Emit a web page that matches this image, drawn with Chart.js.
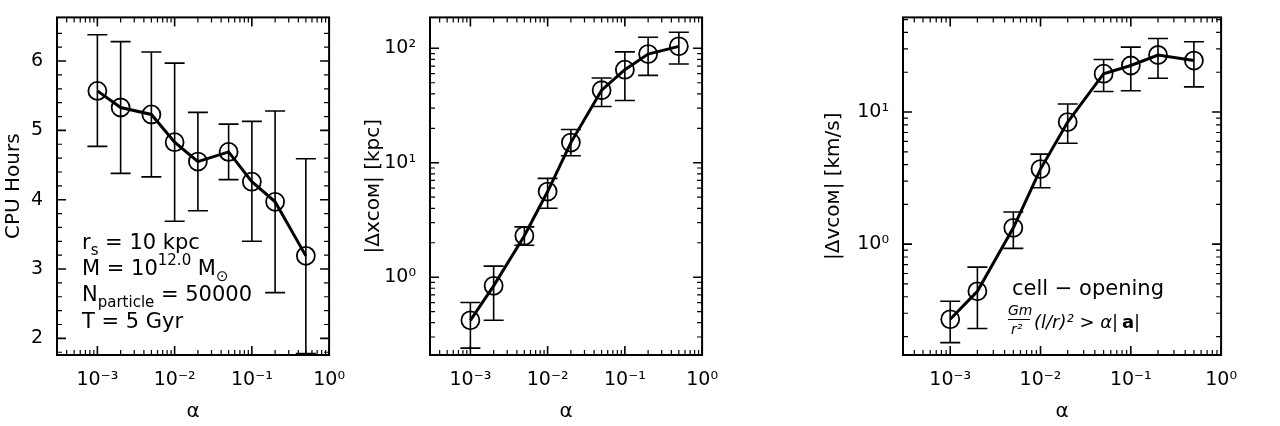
<!DOCTYPE html>
<html><head><meta charset="utf-8">
<script src="https://cdn.jsdelivr.net/npm/chart.js@4"></script>
<style>
body{margin:0;background:#fff;width:1280px;height:426px;position:relative;overflow:hidden}
.p{position:absolute;top:0;height:426px}
</style></head><body>
<div class="p" style="left:0;width:351px"><canvas id="c1"></canvas></div>
<div class="p" style="left:360px;width:364px"><canvas id="c2"></canvas></div>
<div class="p" style="left:820px;width:423px"><canvas id="c3"></canvas></div>
<script>
// données
const alpha = [0.001, 0.002, 0.005, 0.01, 0.02, 0.05, 0.1, 0.2, 0.5];
const cpu = [5.57, 5.33, 5.23, 4.83, 4.55, 4.69, 4.26, 3.97, 3.19];
const cpuLo = [4.77, 4.38, 4.33, 3.69, 3.84, 4.29, 3.40, 2.66, 1.78];
const cpuHi = [6.38, 6.28, 6.13, 5.97, 5.26, 5.09, 5.13, 5.28, 4.59];
const dx = [0.42, 0.84, 2.3, 5.6, 15, 43, 65, 89, 104];
const dxLo = [0.24, 0.42, 1.9, 4.0, 11.5, 31, 35, 58, 73];
const dxHi = [0.6, 1.25, 2.75, 7.3, 19.5, 55, 93, 125, 138];
const dv = [0.27, 0.44, 1.33, 3.7, 8.4, 19.5, 22.5, 27, 24.5];
const dvLo = [0.18, 0.23, 0.93, 2.67, 5.8, 14.3, 14.5, 18, 15.5];
const dvHi = [0.37, 0.67, 1.75, 4.8, 11.5, 25, 31, 36, 34];
const cpuTicks = [2, 3, 4, 5, 6];
const sup = {'-':'⁻','0':'⁰','1':'¹','2':'²','3':'³'};
const decLabel = v => '10' + String(Math.round(Math.log10(v))).split('').map(c => sup[c]).join('');
const FONT = 'DejaVu Sans';

const errPlugin = {
  id: 'err',
  afterDatasetsDraw(chart, args, o) {
    const {ctx, scales: {x, y}} = chart;
    ctx.save(); ctx.strokeStyle = '#000'; ctx.lineWidth = 1.6;
    alpha.forEach((a, i) => {
      const px = x.getPixelForValue(a), lo = y.getPixelForValue(o.lo[i]), hi = y.getPixelForValue(o.hi[i]);
      ctx.beginPath(); ctx.moveTo(px, lo); ctx.lineTo(px, hi);
      ctx.moveTo(px - 10, lo); ctx.lineTo(px + 10, lo);
      ctx.moveTo(px - 10, hi); ctx.lineTo(px + 10, hi); ctx.stroke();
    });
    ctx.restore();
  }
};
const frame = {
  id: 'frame',
  afterDraw(chart, args, o) {
    const {ctx, chartArea: a, scales: {x, y}} = chart;
    ctx.save(); ctx.strokeStyle = '#000'; ctx.lineWidth = 2;
    ctx.strokeRect(a.left, a.top, a.right - a.left, a.bottom - a.top);
    const tick = (px, len, horiz) => {
      ctx.beginPath();
      if (horiz) { ctx.moveTo(px, a.bottom); ctx.lineTo(px, a.bottom - len); ctx.moveTo(px, a.top); ctx.lineTo(px, a.top + len); }
      else { ctx.moveTo(a.left, px); ctx.lineTo(a.left + len, px); ctx.moveTo(a.right, px); ctx.lineTo(a.right - len, px); }
      ctx.stroke();
    };
    const logTicks = (s, horiz) => {
      for (let e = -4; e <= 3; e++) for (let m = 1; m < 10; m++) {
        const v = m * Math.pow(10, e);
        if (v < s.min || v > s.max) continue;
        ctx.lineWidth = m === 1 ? 1.6 : 1.2;
        tick(s.getPixelForValue(v), m === 1 ? 9 : 5, horiz);
      }
    };
    logTicks(x, true);
    if (o.linY) {
      for (let v = 1.8; v <= 6.6; v += 0.2) {
        const major = Math.abs(v - Math.round(v)) < 1e-6;
        ctx.lineWidth = major ? 1.6 : 1.2;
        tick(y.getPixelForValue(v), major ? 9 : 5, false);
      }
    } else logTicks(y, false);
    ctx.restore();
    if (o.text) o.text(ctx, a);
  }
};

function make(id, data, lo, hi, ymin, ymax, ylog, ytitle, yw, text) {
  const yTicks = ylog ? { callback: v => decLabel(v) } : { callback: v => String(v) };
  new Chart(document.getElementById(id), {
    type: 'line',
    data: { datasets: [{ data: alpha.map((a, i) => ({x: a, y: data[i]})),
      borderColor: '#000', borderWidth: 3, pointRadius: 9, pointBorderWidth: 1.8,
      pointBackgroundColor: 'rgba(0,0,0,0)', pointBorderColor: '#000', tension: 0 }] },
    options: {
      animation: false, responsive: true, maintainAspectRatio: false,
      layout: { padding: { top: 8, right: 6, bottom: 0, left: 0 } },
      plugins: { legend: { display: false }, tooltip: { enabled: false },
        err: { lo, hi }, frame: { linY: !ylog, text } },
      scales: {
        x: { type: 'logarithmic', min: Math.pow(10, -3.51), max: 1,
          grid: { display: false }, border: { display: false },
          afterBuildTicks: s => { s.ticks = [0.001, 0.01, 0.1, 1].map(v => ({value: v})); },
          ticks: { callback: v => decLabel(v), color: '#000', font: { family: FONT, size: 19 }, maxRotation: 0, padding: 6 },
          title: { display: true, text: 'α', color: '#000', font: { family: FONT, size: 20 }, padding: 2 },
          afterFit: s => { s.height = 71; } },
        y: { type: ylog ? 'logarithmic' : 'linear', min: ymin, max: ymax,
          grid: { display: false }, border: { display: false },
          afterBuildTicks: s => {
            const list = ylog ? [1e-1, 1, 10, 100] : cpuTicks;
            s.ticks = list.filter(v => v >= ymin && v <= ymax).map(v => ({value: v}));
          },
          ticks: Object.assign({ color: '#000', font: { family: FONT, size: 19 }, padding: 6 }, yTicks),
          title: { display: true, text: ytitle, color: '#000', font: { family: FONT, size: 20 }, padding: 2 },
          afterFit: s => { s.width = yw; } }
      }
    },
    plugins: [errPlugin, frame]
  });
}

function sub(ctx, x, y, parts) {
  parts.forEach(([t, kind]) => {
    const size = kind ? 15 : 21;
    ctx.font = size + 'px ' + FONT;
    const dy = kind === 'sub' ? 6 : kind === 'sup' ? -10 : 0;
    ctx.fillText(t, x, y + dy);
    x += ctx.measureText(t).width;
  });
}

make('c1', cpu, cpuLo, cpuHi, 1.76, 6.63, false, 'CPU Hours', 57, (ctx, a) => {
  ctx.save(); ctx.fillStyle = '#000'; ctx.textBaseline = 'alphabetic';
  sub(ctx, 82, 249, [['r', 0], ['s', 'sub'], [' = 10 kpc', 0]]);
  sub(ctx, 82, 275, [['M = 10', 0], ['12.0', 'sup'], [' M', 0], ['⊙', 'sub']]);
  sub(ctx, 82, 301, [['N', 0], ['particle', 'sub'], [' = 50000', 0]]);
  sub(ctx, 82, 328, [['T = 5 Gyr', 0]]);
  ctx.restore();
});
make('c2', dx, dxLo, dxHi, Math.pow(10, -0.68), Math.pow(10, 2.27), true, '|Δxᴄᴏᴍ| [kpc]', 70);
make('c3', dv, dvLo, dvHi, 0.145, 52, true, '|Δvᴄᴏᴍ| [km/s]', 83, (ctx, a) => {
  ctx.save(); ctx.fillStyle = '#000';
  ctx.font = '21px ' + FONT; ctx.fillText('cell − opening', 1012 - 820, 295);
  ctx.font = 'italic 14px ' + FONT; ctx.fillText('Gm', 1008 - 820, 315);
  ctx.fillRect(1008 - 820, 319, 22, 1);
  ctx.fillText('r²', 1011 - 820, 334);
  ctx.font = 'italic 18px ' + FONT; ctx.fillText('(l/r)² > α|', 1034 - 820, 328);
  ctx.font = 'bold 18px ' + FONT; ctx.fillText('a', 1122 - 820, 328);
  ctx.font = '18px ' + FONT; ctx.fillText('|', 1134 - 820, 328);
  ctx.restore();
});
</script></body></html>
